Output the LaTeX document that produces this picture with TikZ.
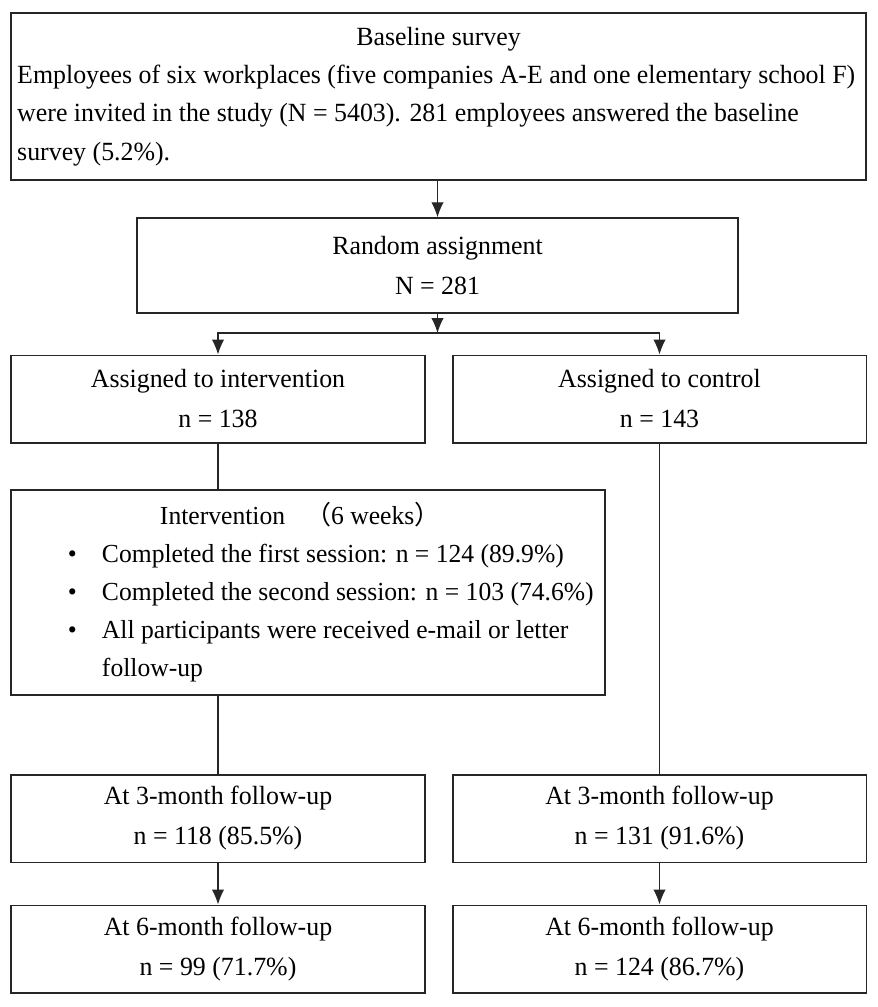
\documentclass[tikz,border=0pt]{standalone}
\usepackage{fontspec}
\setmainfont[FakeStretch=0.985]{Liberation Serif}
\newfontfamily\cjk{Noto Sans CJK SC}
\usetikzlibrary{arrows.meta}

\tikzset{
    box/.style={draw=black!85, line width=0.6pt, inner sep=0pt, align=center},
    halfbox/.style={box, minimum width=165.4pt, minimum height=35pt},
    link/.style={line width=0.5pt, black!85},
    tip/.style={-{Latex[length=6pt, width=5pt]}}
}

\begin{document}
\begin{tikzpicture}[x=0.4pt, y=-0.4pt, font=\fontsize{10.5}{14.8}\selectfont]

        \useasboundingbox (0,0) rectangle (878,1007);

        % baseline and randomisation
        \node[box, minimum width=342pt, minimum height=66.8pt, align=flush left,
              font=\fontsize{10.5}{15.3}\selectfont] (survey) at (438.5,96.5)
            {\makebox[337pt]{Baseline survey}\\
             Employees of six workplaces (five companies A-E and one elementary school F)\\
             were invited in the study (N = 5403). 281 employees answered the baseline\\
             survey (5.2\%).};
        \node[box, minimum width=240.4pt, minimum height=38pt] (random) at (437.5,265.5)
            {Random assignment\\[1.2pt] N = 281};
        \coordinate (split) at (437.5,333);

        % arms
        \node[halfbox] (assigned) at (218,399) {Assigned to intervention\\[1.2pt] n = 138};
        \node[halfbox] (control) at (659.5,399) {Assigned to control\\[1.2pt] n = 143};

        \node[box, text width=237.6pt, minimum height=82pt, align=flush left,
              font=\fontsize{10.4}{15.2}\selectfont] (sessions) at (308,592.5)
            {\hspace*{59.6pt}Intervention\hspace{8pt}{\cjk （}6 weeks{\cjk ）}\\
             \hspace*{22.8pt}\makebox[13.6pt][l]{\textbullet}Completed the first session: n = 124 (89.9\%)\\
             \hspace*{22.8pt}\makebox[13.6pt][l]{\textbullet}Completed the second session: n = 103 (74.6\%)\\
             \hspace*{22.8pt}\makebox[13.6pt][l]{\textbullet}All participants were received e-mail or letter\\
             \hspace*{36.4pt}follow-up};

        % follow-ups
        \node[halfbox] (threeI) at (218,818.5) {At 3-month follow-up\\[1.2pt] n = 118 (85.5\%)};
        \node[halfbox] (threeC) at (659.5,818.5) {At 3-month follow-up\\[1.2pt] n = 131 (91.6\%)};
        \node[halfbox] (sixI) at (218,949) {At 6-month follow-up\\[1.2pt] n = 99 (71.7\%)};
        \node[halfbox] (sixC) at (659.5,949) {At 6-month follow-up\\[1.2pt] n = 124 (86.7\%)};

        % connectors
        \begin{scope}[link]
            \draw[tip] (random.north |- survey.south) -- (random.north);
            \draw[tip] (random.south) -- (split);
            \draw[tip] (split) -| (assigned.north);
            \draw[tip] (split) -| (control.north);
            \draw (assigned.south) -- (assigned.south |- sessions.north);
            \draw (assigned.south |- sessions.south) -- (threeI.north);
            \draw (control.south) -- (threeC.north);
            \draw[tip] (threeI) -- (sixI);
            \draw[tip] (threeC) -- (sixC);
        \end{scope}

\end{tikzpicture}
\end{document}
